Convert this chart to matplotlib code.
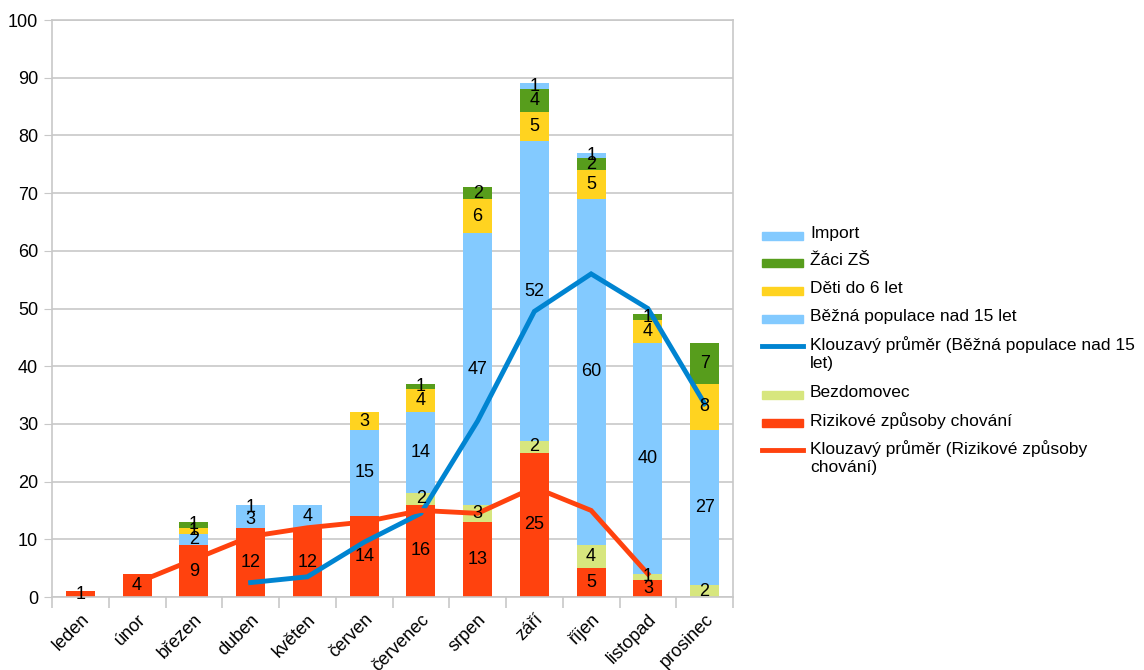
import numpy as np
import matplotlib.pyplot as plt
from matplotlib.patches import Rectangle
from matplotlib.lines import Line2D

plt.rcParams['font.family'] = ['Liberation Sans', 'DejaVu Sans']

# Data
months = ["leden", "únor", "březen", "duben", "květen", "červen",
          "červenec", "srpen", "září", "říjen", "listopad", "prosinec"]
rizikove = [1, 4, 9, 12, 12, 14, 16, 13, 25, 5, 3, 0]
bezdomovec = [0, 0, 0, 0, 0, 0, 2, 3, 2, 4, 1, 2]
bezna = [0, 0, 2, 3, 4, 15, 14, 47, 52, 60, 40, 27]
deti = [0, 0, 1, 0, 0, 3, 4, 6, 5, 5, 4, 8]
zaci = [0, 0, 1, 0, 0, 0, 1, 2, 4, 2, 1, 7]
import_ = [0, 0, 0, 1, 0, 0, 0, 0, 1, 1, 0, 0]

# moving averages (period 2) as shown in chart
ma_bezna = [np.nan, np.nan, np.nan, 2.5, 3.5, 9.5, 14.5, 30.5, 49.5, 56, 50, 33.5]
ma_riz = [np.nan, 2.5, 6.5, 10.5, 12, 13, 15, 14.5, 19, 15, 4, np.nan]

c_red = "#ff420e"
c_bezd = "#d7e67e"
c_lblue = "#83caff"
c_yellow = "#ffd320"
c_green = "#579d1c"
c_blue = "#0084d1"
grid_c = "#c8c8c8"

fig = plt.figure(figsize=(11.44, 6.70), dpi=100)
ax = fig.add_axes([52 / 1144, 73 / 670, 681 / 1144, 577 / 670])

x = np.arange(len(months))
series = [
    ("Rizikové způsoby chování", rizikove, c_red),
    ("Bezdomovec", bezdomovec, c_bezd),
    ("Běžná populace nad 15 let", bezna, c_lblue),
    ("Děti do 6 let", deti, c_yellow),
    ("Žáci ZŠ", zaci, c_green),
    ("Import", import_, c_lblue),
]

bottom = np.zeros(len(months))
width = 0.51
for name, vals, col in series:
    vals = np.array(vals, dtype=float)
    ax.bar(x, vals, width, bottom=bottom, color=col, zorder=2)
    for xi, v, b in zip(x, vals, bottom):
        if v > 0:
            ax.text(xi, b + v / 2, f"{int(v)}", ha="center", va="center",
                    fontsize=13, color="black", zorder=5)
    bottom += vals

ax.plot(x, ma_bezna, color=c_blue, lw=3.5, zorder=3, solid_joinstyle="miter")
ax.plot(x, ma_riz, color=c_red, lw=3.5, zorder=3, solid_joinstyle="miter")

ax.set_xlim(-0.5, len(months) - 0.5)
ax.set_ylim(0, 100)
ax.set_yticks(range(0, 101, 10))
ax.tick_params(axis="y", labelsize=13, length=6, color=grid_c, pad=4)
ax.yaxis.grid(True, color=grid_c, lw=1.2, zorder=0)
ax.set_axisbelow(True)

ax.set_xticks(x)
ax.set_xticklabels(months, rotation=45, ha="right", rotation_mode="anchor", fontsize=13)
ax.tick_params(axis="x", length=0, pad=10)
ax.set_xticks(np.arange(-0.5, len(months), 1), minor=True)
ax.tick_params(axis="x", which="minor", length=8, color=grid_c, width=1.2)

for s in ax.spines.values():
    s.set_color(grid_c)
    s.set_linewidth(1.2)

# Legend drawn manually
entries = [
    ("Import", c_lblue, "patch"),
    ("Žáci ZŠ", c_green, "patch"),
    ("Děti do 6 let", c_yellow, "patch"),
    ("Běžná populace nad 15 let", c_lblue, "patch"),
    ("Klouzavý průměr (Běžná populace nad 15\nlet)", c_blue, "line"),
    ("Bezdomovec", c_bezd, "patch"),
    ("Rizikové způsoby chování", c_red, "patch"),
    ("Klouzavý průměr (Rizikové způsoby\nchování)", c_red, "line"),
]
y_px = 236
for label, col, kind in entries:
    yf = 1 - y_px / 670
    if kind == "patch":
        fig.patches.append(Rectangle((762 / 1144, yf - 4 / 670), 41 / 1144, 8 / 670,
                                     transform=fig.transFigure, color=col))
    else:
        fig.lines.append(Line2D([762 / 1144, 803 / 1144], [yf, yf], transform=fig.transFigure,
                                color=col, lw=3.5))
    fig.text(810 / 1144, yf + 10 / 670, label, ha="left", va="top", fontsize=12.5,
             linespacing=1.27)
    y_px += 27.5 if "\n" not in label else 49

plt.savefig("out.png", dpi=100)
